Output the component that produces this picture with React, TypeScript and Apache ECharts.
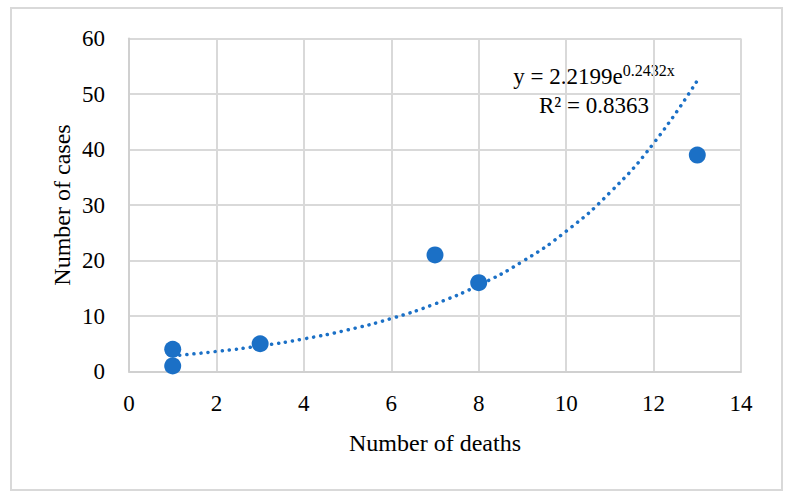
import React, { useEffect, useRef } from "react";
import * as echarts from "echarts";

const deaths = [1, 1, 3, 7, 8, 13];
const cases = [4, 1, 5, 21, 16, 39];
const trendX = [1, 2, 3, 4, 5, 6, 7, 8, 9, 10, 11, 12, 13];
const trendY = [2.83, 3.61, 4.61, 5.87, 7.49, 9.55, 12.18, 15.54, 19.82, 25.27, 32.23, 41.1, 52.42];
const equationText = "y = 2.2199e";
const equationExp = "0.2432x";
const r2Text = "R² = 0.8363";

const FONT = "'Liberation Serif', 'DejaVu Serif', serif";
const BLUE = "#1b70c6";
const FS = 23;

export default function App() {
  const ref = useRef<HTMLDivElement>(null);
  useEffect(() => {
    const chart = echarts.init(ref.current!, null, { renderer: "svg" });
    chart.setOption({
      animation: false,
      backgroundColor: "#ffffff",
      grid: { left: 129, top: 38.5, right: 51, bottom: 130.5 },
      xAxis: {
        type: "value",
        min: 0,
        max: 14,
        interval: 2,
        name: "Number of deaths",
        nameLocation: "middle",
        nameGap: 59,
        nameMoveOverlap: false,
        nameTextStyle: { fontFamily: FONT, fontSize: 24, color: "#000", verticalAlign: "top" },
        axisLine: { lineStyle: { color: "#d0d0d0", width: 2 } },
        axisTick: { show: false },
        axisLabel: { fontFamily: FONT, fontSize: FS, color: "#000", margin: 20 },
        splitLine: { lineStyle: { color: "#d9d9d9", width: 2 } },
      },
      yAxis: {
        type: "value",
        min: 0,
        max: 60,
        interval: 10,
        name: "Number of cases",
        nameLocation: "middle",
        nameGap: 55,
        nameMoveOverlap: false,
        nameTextStyle: { fontFamily: FONT, fontSize: 24, color: "#000" },
        axisLine: { show: true, lineStyle: { color: "#d0d0d0", width: 2 } },
        axisTick: { show: false },
        axisLabel: { fontFamily: FONT, fontSize: FS, color: "#000", margin: 24 },
        splitLine: { lineStyle: { color: "#d9d9d9", width: 2 } },
      },
      series: [
        {
          type: "line",
          data: trendX.map((x, i) => [x, trendY[i]]),
          smooth: true,
          showSymbol: false,
          symbol: "none",
          lineStyle: { color: BLUE, width: 3.5, type: [0.1, 7], cap: "round" },
          z: 2,
        },
        {
          type: "scatter",
          data: deaths.map((d, i) => [d, cases[i]]),
          symbolSize: 17,
          itemStyle: { color: BLUE, opacity: 1 },
          z: 3,
        },
      ],
      graphic: [
        {
          type: "rect",
          shape: { x: 11, y: 8, width: 771, height: 482 },
          style: { fill: "none", stroke: "#d9d9d9", lineWidth: 2 },
          silent: true,
        },
        {
          type: "text",
          x: 594,
          y: 76,
          style: {
            text: "{a|" + equationText + "}{b|" + equationExp + "}",
            rich: {
              a: { fontFamily: FONT, fontSize: FS, fill: "#000" },
              b: { fontFamily: FONT, fontSize: 16, fill: "#000", verticalAlign: "bottom", padding: [0, 0, 11, 0] },
            },
            align: "center",
            verticalAlign: "middle",
          },
        },
        {
          type: "text",
          x: 594,
          y: 105,
          style: {
            text: r2Text,
            fontFamily: FONT,
            fontSize: FS,
            fill: "#000",
            align: "center",
            verticalAlign: "middle",
          },
        },
      ],
    });
    return () => chart.dispose();
  }, []);
  return <div ref={ref} style={{ position: "absolute", left: 0, top: 0, width: 792, height: 502 }} />;
}
